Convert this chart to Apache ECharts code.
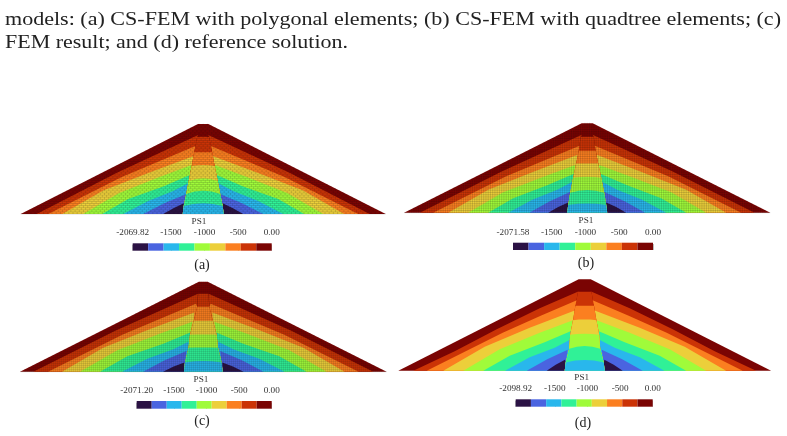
<!DOCTYPE html>
<html><head><meta charset="utf-8">
<style>html,body{margin:0;padding:0;background:#fff}#c{width:787px;height:436px}</style>
<script src="https://cdn.jsdelivr.net/npm/echarts@6/dist/echarts.min.js"></script>
</head><body><div id="c"></div>
<script>
// Nine stress classes of PS1, lowest to highest
const classColours = ['#2b1244','#4a64e0','#29b7ec','#30f197','#a0fb3a','#eccf3a','#fb7f20','#cb3306','#7a0403'];

// Stress class of the region under each embankment contour, outer to inner
const shellClasses = [7,6,5,4,3,2,1,0];
// Stress class of the region under each core contour, top to bottom
const coreClasses = [7,6,5,4,3,2];

// Embankment contours on the upstream side: [offset from axis, height], base to core
const contoursA = [
  [[-166.5,0],[-85.8,41.5],[-5.1,79]],[[-155,0],[-81.4,37],[-7.8,68]],
  [[-141,0],[-100,23.5],[-55,41],[-9.5,58]],[[-120,0],[-84,21],[-45,36.5],[-11.8,49]],
  [[-101,0],[-75,15],[-40,27.5],[-13.5,39]],[[-80,0],[-55,13],[-30,23],[-15.1,30.7]],
  [[-60,0],[-38.4,11],[-16.8,20]],[[-40,0],[-29.75,5.8],[-19.5,10.7]]];
const contoursB = [
  [[-167.3,0],[-86,41],[-5.4,78]],[[-154,0],[-81,36.5],[-7.6,67]],
  [[-139,0],[-99,23],[-55,40.5],[-9.4,58]],[[-119,0],[-84,20.5],[-45,35.5],[-11.4,48]],
  [[-99,0],[-74,14.5],[-40,27.5],[-13.2,39]],[[-79,0],[-55,13],[-30,23],[-14.8,31]],
  [[-58,0],[-37.4,11.5],[-16.8,21]],[[-39,0],[-29,5.6],[-19,10.3]]];
const contoursC = [
  [[-170,0],[-88,41],[-5.4,78]],[[-155.3,0],[-81,37],[-7.4,68]],
  [[-141.3,0],[-100,24],[-55,42],[-9,59.3]],[[-123.3,0],[-86,21.5],[-45,37.5],[-11,50]],
  [[-103.3,0],[-76,15.5],[-40,28],[-13.1,39.3]],[[-81.3,0],[-56,13],[-30,22.5],[-15,30]],
  [[-60.3,0],[-38.6,11.4],[-16.9,20.7]],[[-40.3,0],[-29.6,5.1],[-19,9.3]]];
const contoursD = [
  [[-171.4,0],[-130,19.5],[-88,41.5],[-45,62.5],[-4.7,80]],[[-158,0],[-120,19],[-82,38],[-44,55],[-6.7,71]],
  [[-141.4,0],[-100,24],[-55,43],[-8,61]],[[-121.4,0],[-85,21.5],[-45,38],[-10.4,51]],
  [[-101.4,0],[-75,15],[-40,28.5],[-13,40]],[[-79.7,0],[-55,13.5],[-30,23],[-14.7,31]],
  [[-58,0],[-37.5,11.5],[-17,21]],[[-38,0],[-29,5.9],[-19.7,11]]];

// Core contours: [half width at the core edge, height at the edge, height on the axis]
const coreA = [[6,77,77.3],[9,61.7,61.7],[11.5,48,49],[14.5,33,35.7],[17,20,23.3],[19.5,8,10.7]];
const coreB = [[6.5,76,76],[8.5,62,62],[11,49.3,49.3],[14,35,36],[17,20,22.7],[19,7.7,9.3]];
const coreC = [[5,78,78],[6,65,65],[9.5,51,51],[13.3,37,37.3],[14.7,24,24.3],[18.3,9.3,10.7]];
const coreD = [[6.7,79,79],[9.3,65,65],[11.7,50.5,51.3],[14.5,36,37],[15.5,22,24.7],[19,8.3,10.7]];

// Colour bar class limits
const limitsA = [-2069.82,-1839.84,-1609.86,-1379.88,-1149.9,-919.92,-689.94,-459.96,-229.98,0];
const limitsB = [-2071.58,-1841.4,-1611.23,-1381.05,-1150.88,-920.7,-690.53,-460.35,-230.18,0];
const limitsC = [-2071.2,-1841.07,-1610.93,-1380.8,-1150.67,-920.53,-690.4,-460.27,-230.13,0];
const limitsD = [-2098.92,-1865.71,-1632.49,-1399.28,-1166.07,-932.87,-699.65,-466.43,-233.22,0];

// Colour bar tick values and their printed labels
const ticksA = [-2069.82,-1500,-1000,-500,0], tickLabelsA = ['-2069.82','-1500','-1000','-500','0.00'];
const ticksB = [-2071.58,-1500,-1000,-500,0], tickLabelsB = ['-2071.58','-1500','-1000','-500','0.00'];
const ticksC = [-2071.2,-1500,-1000,-500,0],  tickLabelsC = ['-2071.20','-1500','-1000','-500','0.00'];
const ticksD = [-2098.92,-1500,-1000,-500,0], tickLabelsD = ['-2098.92','-1500','-1000','-500','0.00'];

const captionLines = [
  {text:'models: (a) CS-FEM with polygonal elements; (b) CS-FEM with quadtree elements; (c)', x:5, y:20, w:776},
  {text:'FEM result; and (d) reference solution.', x:5, y:43, w:343}
];
const SERIF = '"Liberation Serif","Times New Roman",serif';

// Panel layout and finite element mesh spacing (no mesh on the reference solution)
const panels = [
  {tag:'(a)',contours:contoursA,core:coreA,limits:limitsA,ticks:ticksA,tickLabels:tickLabelsA,
   cx:203.2,base:214,hw:182.5,H:90,top:5.2,mesh:{cell:2.1,stagger:true},
   bar:{l:132.7,r:271.7,t:243.3,b:250.7},psX:199,psY:222,capX:202,capY:265},
  {tag:'(b)',contours:contoursB,core:coreB,limits:limitsB,ticks:ticksB,tickLabels:tickLabelsB,
   cx:587.2,base:212.7,hw:183.1,H:89.4,top:5.5,mesh:{cell:2.25,stagger:false},
   bar:{l:513,r:653,t:242.7,b:250},psX:586,psY:221,capX:586,capY:263},
  {tag:'(c)',contours:contoursC,core:coreC,limits:limitsC,ticks:ticksC,tickLabels:tickLabelsC,
   cx:203.3,base:371.7,hw:183.3,H:90,top:4.4,mesh:{cell:2,stagger:false},
   bar:{l:136.7,r:271.7,t:401,b:408.7},psX:201,psY:380,capX:202,capY:421},
  {tag:'(d)',contours:contoursD,core:coreD,limits:limitsD,ticks:ticksD,tickLabels:tickLabelsD,
   cx:584.7,base:370.7,hw:186.4,H:91.4,top:6,mesh:null,
   bar:{l:515.7,r:652.7,t:399.3,b:406.7},psX:581.7,psY:378,capX:583,capY:423}
];

// Filled regions of one panel in paint order: section, embankment flanks, core
function regionsOf(p){
  const out = [{cls:8, pts:[[-p.hw,0],[-p.top,p.H],[p.top,p.H],[p.hw,0]]}];
  const footX = p.core[p.core.length-1][0] + 1;
  // Core outline below a given height, walking down to the foot
  const outlineBelow = h => p.core.filter(c=>c[1]<h).map(c=>[-c[0],c[1]]).concat([[-footX,0]]);
  p.contours.forEach((line,i)=>{
    const left = line.concat(outlineBelow(line[line.length-1][1]));
    out.push({cls:shellClasses[i], pts:left});
    out.push({cls:shellClasses[i], pts:left.map(q=>[-q[0],q[1]])});
  });
  p.core.forEach((c,i)=>{
    const [e,he,hc] = c;
    const side = outlineBelow(he).reverse();
    const midH = (he+hc)/2+(hc-he)*0.25;
    out.push({cls:coreClasses[i], pts:side.concat([[-e,he],[-e*0.5,midH],[0,hc],[e*0.5,midH],[e,he]],
      side.slice().reverse().map(q=>[-q[0],q[1]]))});
  });
  return out;
}

// Element edges of the mesh, clipped to the dam section
function meshPath(p, api){
  const m = p.mesh, parts = [];
  const halfAt = h => p.hw - (p.hw - p.top)*h/p.H;
  const P = (x,h)=>{const q=api.coord([x,h]);return q[0].toFixed(2)+' '+q[1].toFixed(2);};
  let row = 0;
  for(let h=0; h<p.H; h+=m.cell, row++){
    const w = halfAt(h), wUp = halfAt(h+m.cell);
    parts.push('M'+P(-w,h)+'L'+P(w,h));
    const shift = m.stagger && row%2 ? m.cell : 0;
    for(let x=-2*m.cell*Math.ceil(wUp/(2*m.cell))+shift; x<=wUp; x+= m.stagger?2*m.cell:m.cell){
      if(Math.abs(x)<=wUp) parts.push('M'+P(x,h)+'L'+P(x,h+m.cell));
    }
  }
  return parts.join('');
}

const grid=[],xAxis=[],yAxis=[],series=[],graphic=[];
const hidden = {show:false};

panels.forEach(p=>{
  // Dam section, axes in the section's own units
  const gi = grid.length;
  grid.push({left:p.cx-p.hw,top:p.base-p.H,width:2*p.hw,height:p.H,containLabel:false});
  xAxis.push({type:'value',gridIndex:gi,min:-p.hw,max:p.hw,show:false,splitLine:hidden});
  yAxis.push({type:'value',gridIndex:gi,min:0,max:p.H,show:false,splitLine:hidden});
  const regions = regionsOf(p);
  series.push({type:'custom',xAxisIndex:gi,yAxisIndex:gi,clip:false,silent:true,animation:false,
    data:regions.map((r,i)=>[i]),
    renderItem:(params,api)=>{
      const r = regions[params.dataIndex];
      return {type:'polygon',shape:{points:r.pts.map(q=>api.coord(q))},
        style:{fill:classColours[r.cls],stroke:null}};
    }});
  if(p.mesh){
    series.push({type:'custom',xAxisIndex:gi,yAxisIndex:gi,clip:false,silent:true,animation:false,z:3,
      data:[[0]],
      renderItem:(params,api)=>({type:'path',shape:{pathData:meshPath(p,api)},
        style:{fill:null,stroke:'rgba(20,20,20,0.25)',lineWidth:0.6}})});
  }
  // Colour bar on a true stress axis
  const bi = grid.length;
  grid.push({left:p.bar.l,top:p.bar.t,width:p.bar.r-p.bar.l,height:p.bar.b-p.bar.t,containLabel:false});
  xAxis.push({type:'value',gridIndex:bi,position:'top',min:p.limits[0],max:0,
    axisLine:hidden,splitLine:hidden,
    axisTick:{show:true,length:6,customValues:p.ticks,lineStyle:{color:'#aaaaaa',width:0.8}},
    axisLabel:{show:true,customValues:p.ticks,margin:6,showMinLabel:true,showMaxLabel:true,hideOverlap:false,
      fontFamily:SERIF,fontSize:9.2,color:'#333',
      formatter:v=>p.tickLabels[p.ticks.indexOf(v)]}});
  yAxis.push({type:'value',gridIndex:bi,min:0,max:1,show:false,splitLine:hidden});
  series.push({type:'custom',xAxisIndex:bi,yAxisIndex:bi,clip:false,silent:true,animation:false,
    data:p.limits.slice(0,-1).map((v,i)=>[v,p.limits[i+1]]),
    renderItem:(params,api)=>{
      const a = api.coord([api.value(0),1]), b = api.coord([api.value(1),0]);
      return {type:'rect',shape:{x:a[0],y:a[1],width:b[0]-a[0],height:b[1]-a[1]},
        style:{fill:classColours[params.dataIndex],stroke:null}};
    }});
  graphic.push({type:'text',x:p.psX,y:p.psY,silent:true,
    style:{text:'PS1',font:'9.2px '+SERIF,fill:'#333',textAlign:'center',textVerticalAlign:'middle'}});
  graphic.push({type:'text',x:p.capX,y:p.capY,silent:true,
    style:{text:p.tag,font:'14px '+SERIF,fill:'#222',textAlign:'center',textVerticalAlign:'middle'}});
});

// The running text above the figure, fitted to its measure
const ruler = document.createElement('canvas').getContext('2d');
captionLines.forEach(l=>{
  const font = '18px '+SERIF;
  ruler.font = font;
  graphic.push({type:'text',x:l.x,y:l.y,scaleX:l.w/ruler.measureText(l.text).width,silent:true,
    style:{text:l.text,font,fill:'#222',textAlign:'left',textVerticalAlign:'middle'}});
});

const chart = echarts.init(document.getElementById('c'),null,{renderer:'canvas'});
chart.setOption({animation:false,backgroundColor:'#fff',grid,xAxis,yAxis,series,graphic});
</script></body></html>
